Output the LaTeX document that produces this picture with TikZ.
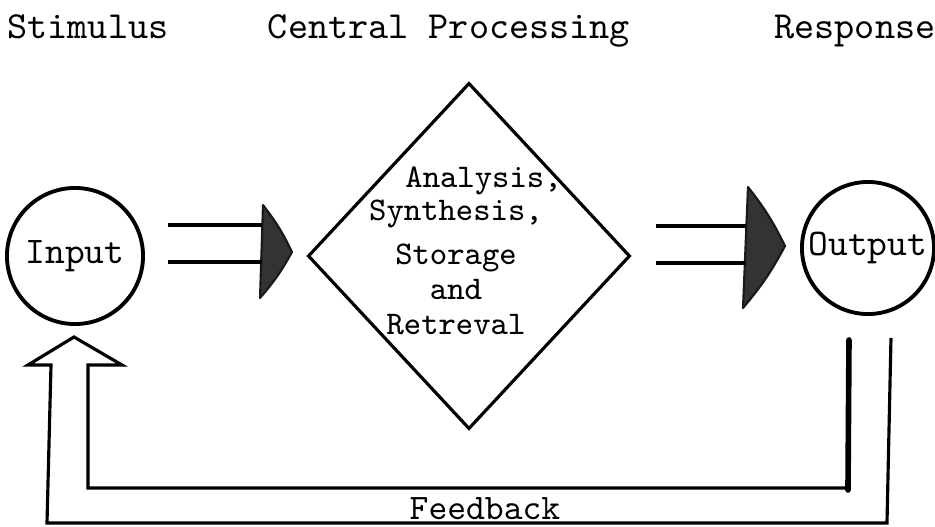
\documentclass[tikz,border=0pt]{standalone}
\usepackage{tikz}
\usetikzlibrary{shapes.geometric}

\begin{document}
\begin{tikzpicture}[x=0.01cm, y=-0.01cm]
    % --- DEFINE STYLES ---
    % Style for the three headings
    \tikzstyle{heading} = [font=\ttfamily\fontsize{10.9}{12}\selectfont, inner sep=0pt, anchor=base]
    % Style for the input and output circles
    \tikzstyle{blob} = [circle, draw, line width=1.1pt, inner sep=0pt, font=\ttfamily\fontsize{10.7}{12}\selectfont]
    % Style for the plain lines
    \tikzstyle{wire} = [line width=0.9pt]
    % Style for the dark arrow heads
    \tikzstyle{head} = [fill=black!80, draw=black!90, line width=0.6pt, line join=round]

    \useasboundingbox (0,0) rectangle (935,527);

    % Headings
    \node[heading] (stim) at (88,38) {Stimulus};
    \node[heading] (central) at (449,38) {Central Processing};
    \node[heading] (resp) at (855,38) {Response};

    % --- INPUT, PROCESSING, OUTPUT ---
    \node[blob, minimum size=1.36cm] (input) at (75,256) {Input};
    \node[blob, minimum size=1.32cm] (output) at (868,248) {Output};
    \node[diamond, draw, line width=0.9pt, minimum width=3.22cm, minimum height=3.46cm, inner sep=0pt] (proc) at (469,256) {};
    \node[font=\ttfamily\fontsize{9.4}{10}\selectfont, align=center, inner sep=0pt] (proctext) at (456,251)
        {\hspace*{0.55cm}Analysis,\\[-0.8pt] Synthesis,\\[2.6pt] Storage\\ and\\ Retreval};

    % Arrow heads and their double shafts
    \coordinate (baseL) at (262,252);
    \coordinate (tipL) at (292,252);
    \coordinate (baseR) at (746,246);
    \coordinate (tipR) at (785,246);
    \fill[head] (263,205) to[bend left=6] (tipL) to[bend left=6] (260,298) -- cycle;
    \fill[head] (748,187) to[bend left=6] (tipR) to[bend left=6] (743,308) -- cycle;

    \coordinate (inTop) at (168,225);
    \coordinate (inBot) at (168,262);
    \coordinate (outTop) at (656,226);
    \coordinate (outBot) at (656,263);
    \draw[wire] (inTop) -- (inTop -| baseL);
    \draw[wire] (inBot) -- (inBot -| baseL);
    \draw[wire] (outTop) -- (outTop -| baseR);
    \draw[wire] (outBot) -- (outBot -| baseR);

    % --- FEEDBACK LOOP ---
    \coordinate (fbIn) at (849,340);
    \coordinate (fbOut) at (891,338);
    \coordinate (fbTip) at (74,337);
    \draw[line width=1.6pt, line cap=round] (fbIn) -- (848,490);
    \draw[wire, line join=miter] (848,488) -- (88,488) -- (88,365) -- (122,365) -- (fbTip)
        -- (28,365) -- (51,365) -- (47,523) -- (887,523) -- (fbOut);
    \node[font=\ttfamily\fontsize{10.2}{11}\selectfont, inner sep=0pt] (fb) at (485,509) {Feedback};
\end{tikzpicture}
\end{document}
